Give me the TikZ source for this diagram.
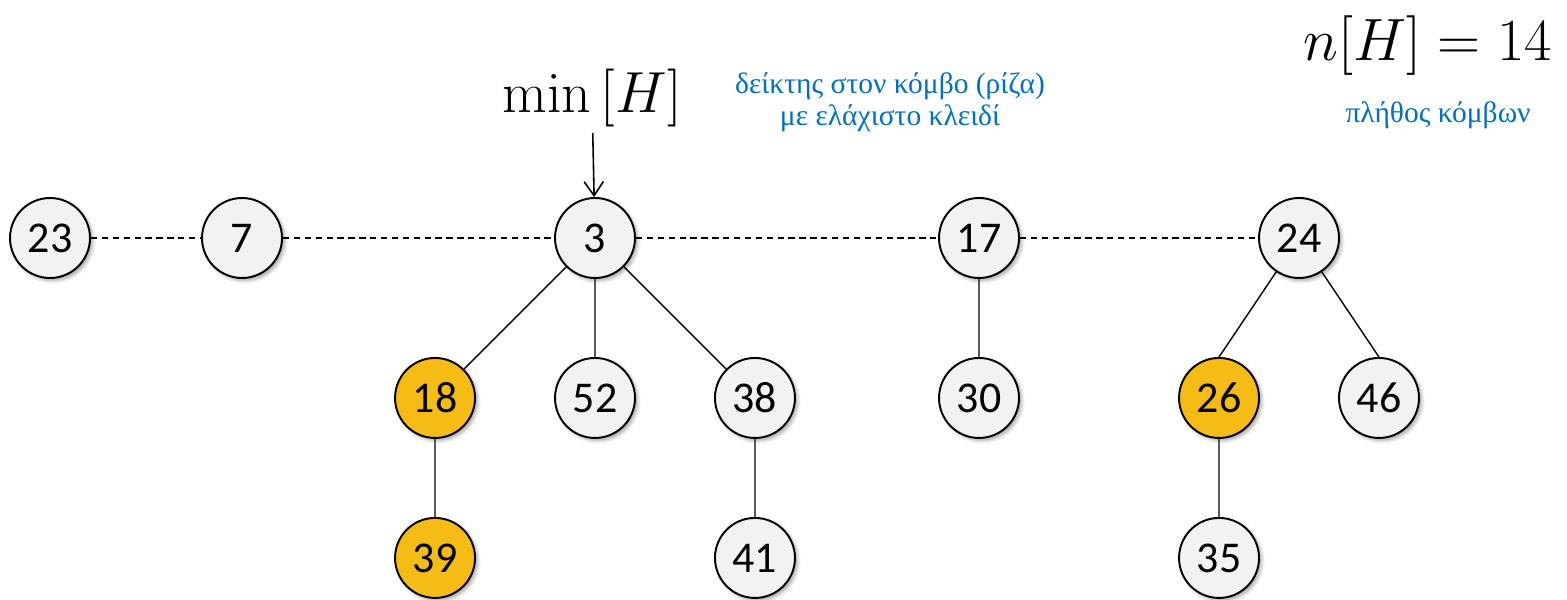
\documentclass[tikz,border=0pt]{standalone}
\usepackage{fix-cm}
\usepackage[no-math]{fontspec}
\setmainfont{Carlito}
\newfontfamily\greekfont[Script=Greek]{Liberation Serif}
\usepackage{amsmath}
\usetikzlibrary{positioning}
\usetikzlibrary{arrows.meta}
\usetikzlibrary{shadows.blur}

\definecolor{keygray}{HTML}{F2F2F2}
\definecolor{keygold}{HTML}{F4BC14}
\definecolor{noteblue}{HTML}{0070C0}

\begin{document}
\begin{tikzpicture}[x=0.02cm,y=0.02cm,
  level/.style={sibling distance=3.2cm, level distance=3.2cm},
  keynode/.style={circle,draw,line width=1.1pt,fill=keygray,minimum size=1.6cm,inner sep=0pt,
    font=\fontsize{25}{30}\selectfont,
    blur shadow={shadow xshift=1.5pt,shadow yshift=-1.5pt,shadow blur radius=2pt,shadow opacity=35}},
  marked/.style={keynode,fill=keygold},
  edge from parent/.style={draw,line width=0.8pt},
  rootlink/.style={line width=0.8pt,dash pattern=on 3.6pt off 2.6pt},
  note/.style={text=noteblue,align=center,font=\fontsize{16.8}{18}\greekfont}]
\useasboundingbox (0,0) rectangle (1567,599);

% root list
\node [keynode](n23) at (50,361){23};
\node [keynode](n7) at (242,361){7};
\node [keynode](n3) at (595,361){3}
  child { node[marked](n18){18}
    child { node[marked](n39){39} }
  }
  child { node[keynode](n52){52} }
  child { node[keynode](n38){38}
    child { node[keynode](n41){41} }
  };
\node [keynode](n17) at (979,361){17}
  child { node[keynode](n30){30} };
\node [keynode](n24) at (1299,361){24}
  child[child anchor=north] { node[marked](n26){26}
    child { node[keynode](n35){35} }
  }
  child[child anchor=north] { node[keynode](n46){46} };

\path[rootlink] (n23) edge (n7) (n7) edge (n3) (n3) edge (n17) (n17) edge (n24);

% pointer to the minimum
\node (minH) at (592,501){\fontsize{33}{38}\selectfont$\min\,[H]$};
\draw[line width=0.9pt,-{Straight Barb[length=8pt,width=11pt,line width=0.9pt]}] (minH) -- (n3);
\node [note](minnote) at (890,497){δείκτης στον κόμβο (ρίζα)\\με ελάχιστο κλειδί};

% number of nodes
\node (sizeH) at (1428,553){\fontsize{34}{40}\selectfont$n[H]=14$};
\node [note](sizenote) at (1438,484){πλήθος κόμβων};
\end{tikzpicture}
\end{document}
